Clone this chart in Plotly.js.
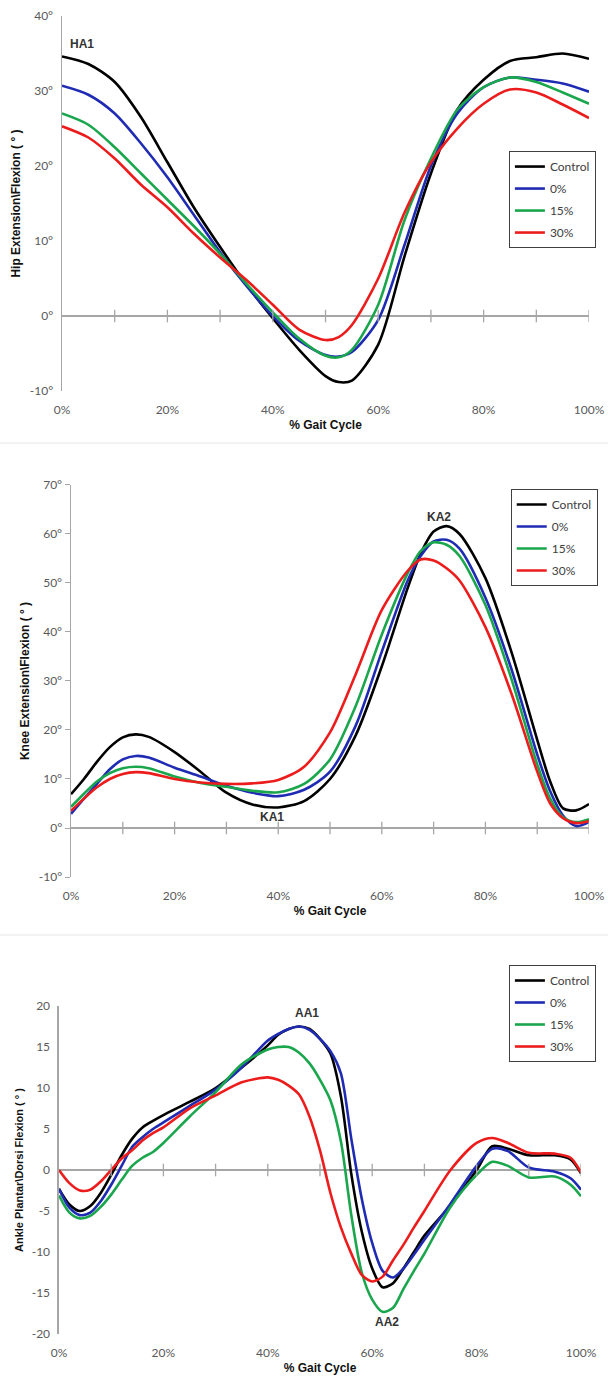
<!DOCTYPE html>
<html>
<head>
<meta charset="utf-8">
<script src="https://cdn.plot.ly/plotly-3.0.1.min.js"></script>
<style>
html,body{margin:0;padding:0;background:#fff;}
#chart{width:608px;height:1377px;}
</style>
</head>
<body>
<div id="chart"></div>
<script>
// ---------------- DATA ----------------
var seriesNames = ["Control", "0%", "15%", "30%"];

// Hip (degrees)
var hipX = [0,5,10,15,20,25,30,35,40,45,50,52.5,55,60,65,70,75,80,85,90,95,100];
var hipControl = [34.6,33.6,31.2,26.5,20.5,14.5,9.2,4.2,-0.3,-4.5,-8,-8.8,-8.6,-3.8,8,19,27.5,31.5,34,34.5,35,34.3];
var hip0  = [30.7,29.5,27,23,18.5,13.5,8.5,4,0,-3.3,-5.2,-5.4,-4.8,-0.5,9.5,20,27,30.5,31.8,31.5,31,29.9];
var hip15 = [27,25.5,22.5,19,15.5,12,8.3,4.3,0.5,-3,-5.3,-5.5,-4.5,1.5,12.8,21,27.5,30.5,31.8,31.2,29.8,28.3];
var hip30 = [25.3,23.8,21,17.5,14.5,11,7.8,4.8,1.5,-1.8,-3.2,-2.8,-1.2,5,13.8,20.5,25,28.3,30.2,29.8,28.2,26.4];

// Knee (degrees)
var kneeX = [0,2.5,5,7.5,10,12.5,15,20,25,30,35,40,45,50,55,60,65,67.5,70,72.5,75,80,85,90,92.5,95,97.5,100];
var kneeControl = [6.9,10,13.5,16.5,18.5,19.1,18.6,15.5,11.5,7.2,4.8,4.2,5.5,10,19,33,49,56,60.5,61.6,60,51,36,18,9.5,4,3.6,4.9];
var knee0  = [2.9,6,9,12,14,14.7,14.4,12.3,10.5,8.6,7.2,6.5,7.8,11.5,21,36,50.5,55.5,58.5,58.8,57,47,32.5,15,7.5,2.5,0.4,1.2];
var knee15 = [4.3,7,9.5,11.2,12.2,12.5,12.2,10.5,9.2,8.4,7.6,7.3,9,14,25,39.5,52,56.5,58.3,57.8,55.5,45.5,30.5,13,6,2.2,1.2,1.8];
var knee30 = [3.5,6,8.3,10,11,11.4,11.2,10,9.3,9,9.1,9.8,12.5,19.5,31.5,44.5,52.5,54.8,54.6,53,50.5,41,27.5,11.5,5,2,1,1.4];

// Ankle (degrees)
var ankleX = [0,2,4,6,8,10,12,14,16,18,20,25,30,35,40,42,44,46,48,50,52,54,56,58,60,62,64,66,68,70,75,80,83,86,90,95,98,100];
var ankleControl = [-2.3,-4.2,-5,-4.4,-2.8,-0.6,1.8,3.8,5.2,6,6.7,8.3,10,12.5,15.2,16.5,17.2,17.5,17.2,16,14.2,9,-0.5,-7.5,-12,-14.3,-13.8,-12,-10,-8,-4.3,0,2.9,2.6,1.8,1.8,1.3,-0.4];
var ankle0  = [-2.3,-4.6,-5.5,-5.2,-3.8,-1.8,0.5,2.8,4,5,5.8,7.8,9.8,12.5,15.8,16.6,17.2,17.5,17.1,16,14.5,11.8,3.8,-3.5,-8.9,-12.3,-13.1,-12,-10.3,-8.5,-4.1,0.5,2.6,2.3,0.3,-0.2,-1,-2.4];
var ankle15 = [-3.1,-5.2,-5.9,-5.6,-4.5,-3,-1.2,0.5,1.5,2.2,3.3,6.5,9.5,12.9,14.7,15,15,14.3,13,11,8.5,3.5,-5.5,-12.5,-15.8,-17.3,-16.8,-14.5,-12.3,-10.2,-4.5,-0.6,1,0.5,-0.9,-0.8,-1.8,-3.2];
var ankle30 = [0,-1.6,-2.5,-2.4,-1.4,0,1.4,2.4,3.6,4.5,5.2,7.5,9.1,10.7,11.3,11,10.3,9.2,6.5,2.4,-2.8,-7,-10.2,-12.8,-13.6,-13,-11,-9.1,-7,-5,0,3.3,3.9,3.3,2.1,2,1.5,-0.3];

// Axis ticks
var xTickVals = [0,20,40,60,80,100];
var xTickText = ["0%","20%","40%","60%","80%","100%"];
var xMinorTicks = [10,20,30,40,50,60,70,80,90,100];
var hipTickVals = [-10,0,10,20,30,40];
var hipTickText = ["-10°","0°","10°","20°","30°","40°"];
var kneeTickVals = [-10,0,10,20,30,40,50,60,70];
var kneeTickText = ["-10°","0°","10°","20°","30°","40°","50°","60°","70°"];
var ankleTickVals = [-20,-15,-10,-5,0,5,10,15,20];
var ankleTickText = ["-20","-15","-10","-5","0","5","10","15","20"];

// Peak labels
var peakLabels = [
  {t:"HA1", x:3.8, y:36.3, ax:"x", ay:"y"},
  {t:"HA2", x:52.2, y:-10.4, ax:"x", ay:"y"},
  {t:"KA2", x:71, y:63.5, ax:"x2", ay:"y2"},
  {t:"KA1", x:38.8, y:2.2, ax:"x2", ay:"y2"},
  {t:"AA1", x:47.5, y:19.1, ax:"x3", ay:"y3"},
  {t:"AA2", x:62.8, y:-18.5, ax:"x3", ay:"y3"}
];

// ---------------- STYLE ----------------
var colors = ["#000000", "#1f2bb3", "#1aa64c", "#ec1c1c"];
var tickFont = {family:"Lato, 'Open Sans', sans-serif", size:12, color:"#595959"};
var titleFont = {family:"'Liberation Sans', Arial, sans-serif", size:12, color:"#111", weight:"bold"};
var axisGray = "#a6a6a6";

var traces = [];
function addPanel(xs, ysList, xa, ya, legendId) {
  ysList.forEach(function(ys, i){
    traces.push({
      type:"scatter", mode:"lines", x:xs, y:ys, xaxis:xa, yaxis:ya,
      name:seriesNames[i], legend:legendId, legendgroup:legendId+"g"+i,
      line:{color:colors[i], width:2.6, shape:"spline", smoothing:0.8},
      hoverinfo:"skip"
    });
  });
  traces.push({
    type:"scatter", mode:"markers", x:xMinorTicks, y:xMinorTicks.map(function(){return 0;}),
    xaxis:xa, yaxis:ya, showlegend:false, hoverinfo:"skip",
    marker:{symbol:"line-ns-open", size:9, line:{color:axisGray, width:1.3}, color:axisGray}
  });
}
addPanel(hipX, [hipControl, hip0, hip15, hip30], "x", "y", "legend");
addPanel(kneeX, [kneeControl, knee0, knee15, knee30], "x2", "y2", "legend2");
addPanel(ankleX, [ankleControl, ankle0, ankle15, ankle30], "x3", "y3", "legend3");

function xAxis(domain, anchor) {
  return {
    domain:domain, anchor:anchor, range:[0,100], tickvals:xTickVals, ticktext:xTickText,
    showgrid:false, zeroline:false, showline:false, ticks:"outside", ticklen:8,
    tickcolor:"rgba(0,0,0,0)", tickfont:tickFont, fixedrange:true,
    title:{text:"% Gait Cycle", font:titleFont, standoff:4}
  };
}
function yAxis(domain, anchor, range, tv, tt, title, showTicks, tfont) {
  return {
    domain:domain, anchor:anchor, range:range, tickvals:tv, ticktext:tt,
    showgrid:false, zeroline:true, zerolinecolor:axisGray, zerolinewidth:1.5,
    showline:true, linecolor:axisGray, linewidth:1.5,
    ticks:"outside", ticklen:5, tickcolor: showTicks ? axisGray : "rgba(0,0,0,0)",
    tickfont:tickFont, fixedrange:true,
    title:{text:title, font:tfont || titleFont, standoff:6}
  };
}

function legendAt(x, y) {
  return {
    x:x, y:y, xanchor:"left", yanchor:"top", bgcolor:"#fff",
    bordercolor:"#404040", borderwidth:1, font:{family:"Lato, 'Open Sans', sans-serif", size:12, color:"#404040"},
    itemwidth:30, tracegroupgap:3, traceorder:"grouped"
  };
}

var annotations = peakLabels.map(function(p){
  return {text:p.t, x:p.x, y:p.y, xref:p.ax, yref:p.ay, showarrow:false,
          font:{family:"'Liberation Sans', Arial, sans-serif", size:12, color:"#333", weight:"bold"}};
});

var layout = {
  width:608, height:1377, margin:{l:0, r:0, t:0, b:0},
  paper_bgcolor:"#fff", plot_bgcolor:"#fff", showlegend:true,
  xaxis: xAxis([0.1020, 0.9688], "y"),
  yaxis: yAxis([0.7160, 0.9884], "x", [-10,40], hipTickVals, hipTickText, "Hip Extension\\Flexion ( ° )", false),
  xaxis2: xAxis([0.1168, 0.9688], "y2"),
  yaxis2: yAxis([0.3631, 0.6478], "x2", [-10,70], kneeTickVals, kneeTickText, "Knee Extension\\Flexion ( ° )", true),
  xaxis3: xAxis([0.0970, 0.9556], "y3"),
  yaxis3: yAxis([0.03123, 0.2694], "x3", [-20,20], ankleTickVals, ankleTickText, "Ankle Plantar\\Dorsi Flexion ( ° )", false,
               {family:"'Liberation Sans', Arial, sans-serif", size:11, color:"#111", weight:"bold"}),
  legend: legendAt(0.837, 0.8903),
  legend2: legendAt(0.840, 0.6449),
  legend3: legendAt(0.837, 0.2992),
  annotations: annotations,
  shapes: [
    {type:"line", xref:"paper", yref:"paper", x0:0, x1:1, y0:1-443/1377, y1:1-443/1377, line:{color:"#e6e6e6", width:1}},
    {type:"line", xref:"paper", yref:"paper", x0:0, x1:1, y0:1-935/1377, y1:1-935/1377, line:{color:"#e6e6e6", width:1}}
  ]
};

Plotly.newPlot("chart", traces, layout, {displayModeBar:false, staticPlot:true});
</script>
</body>
</html>
